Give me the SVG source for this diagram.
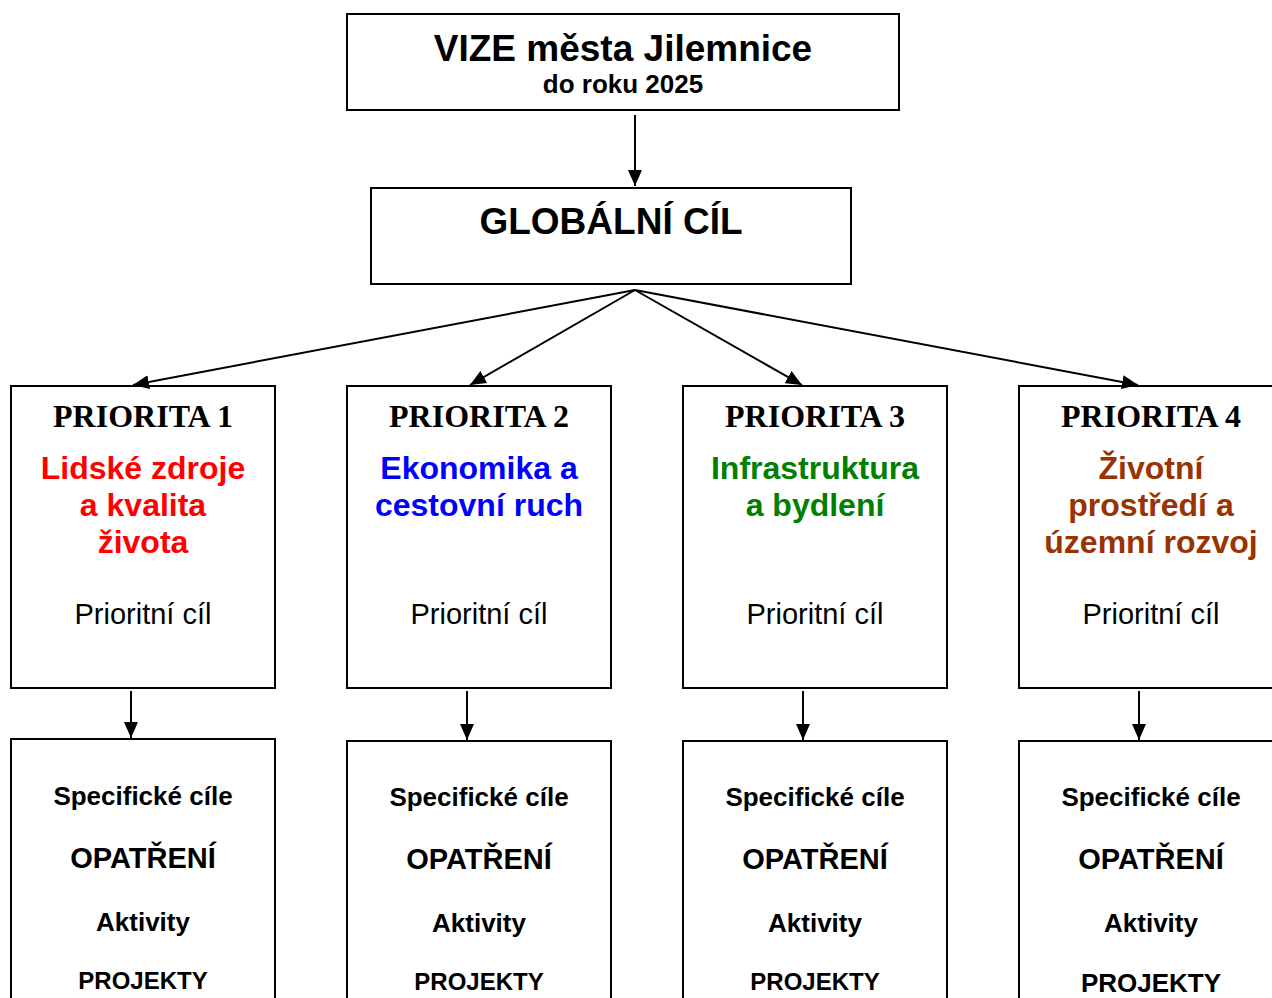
<svg xmlns="http://www.w3.org/2000/svg" width="1272" height="998" viewBox="0 0 1272 998">
<defs>
<style>
.box{fill:#fff;stroke:#000;stroke-width:2}
.conn{stroke:#000;stroke-width:2;fill:none}
.s{font-family:"Liberation Sans",Arial,sans-serif;text-anchor:middle}
.b{font-weight:bold}
.t{font-family:"Liberation Serif","Times New Roman",serif;font-weight:bold;font-size:32px;text-anchor:middle}
.c{font-size:32px;font-weight:bold}
.pc{font-size:29px}
.sc{font-size:26px;font-weight:bold}
.op{font-size:29px;font-weight:bold}
.pr{font-size:24px;font-weight:bold}
</style>
<marker id="ah" markerUnits="userSpaceOnUse" markerWidth="16" markerHeight="14" refX="16" refY="7" orient="auto">
<path d="M0,0 L16,7 L0,14 z" fill="#000"/>
</marker>
</defs>
<rect width="1272" height="998" fill="#fff"/>

<g id="vize">
<rect class="box" x="347" y="14" width="552" height="96"/>
<text class="s b" x="623" y="61" font-size="37">VIZE města Jilemnice</text>
<text class="s b" x="623" y="93" font-size="26">do roku 2025</text>
</g>

<g id="globalni">
<rect class="box" x="371" y="188" width="480" height="96"/>
<text class="s b" x="611" y="234" font-size="37">GLOBÁLNÍ CÍL</text>
</g>

<g id="priorita1">
<rect class="box" x="11" y="386" width="264" height="302"/>
<text class="t" x="143" y="427">PRIORITA 1</text>
<text class="s c" x="143" y="479" fill="#FF0000">Lidské zdroje</text>
<text class="s c" x="143" y="516" fill="#FF0000">a kvalita</text>
<text class="s c" x="143" y="553" fill="#FF0000">života</text>
<text class="s pc" x="143" y="624">Prioritní cíl</text>
</g>

<g id="priorita2">
<rect class="box" x="347" y="386" width="264" height="302"/>
<text class="t" x="479" y="427">PRIORITA 2</text>
<text class="s c" x="479" y="479" fill="#0000FF">Ekonomika a</text>
<text class="s c" x="479" y="516" fill="#0000FF">cestovní ruch</text>
<text class="s pc" x="479" y="624">Prioritní cíl</text>
</g>

<g id="priorita3">
<rect class="box" x="683" y="386" width="264" height="302"/>
<text class="t" x="815" y="427">PRIORITA 3</text>
<text class="s c" x="815" y="479" fill="#008000">Infrastruktura</text>
<text class="s c" x="815" y="516" fill="#008000">a bydlení</text>
<text class="s pc" x="815" y="624">Prioritní cíl</text>
</g>

<g id="priorita4">
<rect class="box" x="1019" y="386" width="264" height="302"/>
<text class="t" x="1151" y="427">PRIORITA 4</text>
<text class="s c" x="1151" y="479" fill="#993300">Životní</text>
<text class="s c" x="1151" y="516" fill="#993300">prostředí a</text>
<text class="s c" x="1151" y="553" fill="#993300">územní rozvoj</text>
<text class="s pc" x="1151" y="624">Prioritní cíl</text>
</g>

<g id="detail1">
<rect class="box" x="11" y="739" width="264" height="270"/>
<text class="s sc" x="143" y="805">Specifické cíle</text>
<text class="s op" x="143" y="868">OPATŘENÍ</text>
<text class="s sc" x="143" y="931">Aktivity</text>
<text class="s pr" x="143" y="989">PROJEKTY</text>
</g>

<g id="detail2">
<rect class="box" x="347" y="741" width="264" height="270"/>
<text class="s sc" x="479" y="806">Specifické cíle</text>
<text class="s op" x="479" y="869">OPATŘENÍ</text>
<text class="s sc" x="479" y="932">Aktivity</text>
<text class="s pr" x="479" y="990">PROJEKTY</text>
</g>

<g id="detail3">
<rect class="box" x="683" y="741" width="264" height="270"/>
<text class="s sc" x="815" y="806">Specifické cíle</text>
<text class="s op" x="815" y="869">OPATŘENÍ</text>
<text class="s sc" x="815" y="932">Aktivity</text>
<text class="s pr" x="815" y="990">PROJEKTY</text>
</g>

<g id="detail4">
<rect class="box" x="1019" y="741" width="264" height="270"/>
<text class="s sc" x="1151" y="806">Specifické cíle</text>
<text class="s op" x="1151" y="869">OPATŘENÍ</text>
<text class="s sc" x="1151" y="932">Aktivity</text>
<text class="s b" x="1151" y="992" font-size="26">PROJEKTY</text>
</g>

<g id="connectors">
<line class="conn" x1="635" y1="115" x2="635" y2="186" marker-end="url(#ah)"/>
<line class="conn" x1="635" y1="290" x2="133" y2="385" marker-end="url(#ah)"/>
<line class="conn" x1="635" y1="290" x2="470" y2="385" marker-end="url(#ah)"/>
<line class="conn" x1="635" y1="290" x2="802" y2="385" marker-end="url(#ah)"/>
<line class="conn" x1="635" y1="290" x2="1138" y2="385" marker-end="url(#ah)"/>
<line class="conn" x1="131" y1="691" x2="131" y2="738" marker-end="url(#ah)"/>
<line class="conn" x1="467" y1="691" x2="467" y2="740" marker-end="url(#ah)"/>
<line class="conn" x1="803" y1="691" x2="803" y2="740" marker-end="url(#ah)"/>
<line class="conn" x1="1139" y1="691" x2="1139" y2="740" marker-end="url(#ah)"/>
</g>
</svg>
